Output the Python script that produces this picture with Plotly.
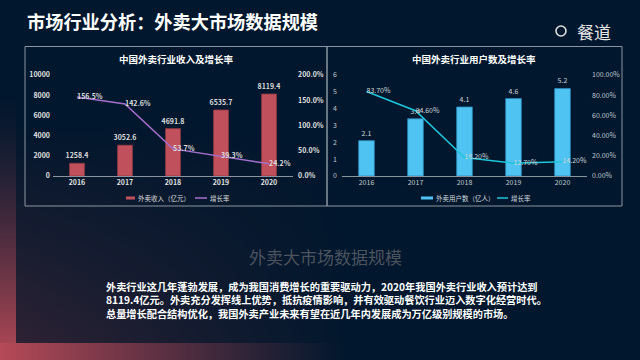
import zlib, struct, base64
import numpy as np
import plotly.graph_objects as go

# ---------------- data ----------------
years = ["2016", "2017", "2018", "2019", "2020"]
revenue = [1258.4, 3052.6, 4691.8, 6535.7, 8119.4]
revenue_growth = [156.5, 142.6, 53.7, 39.3, 24.2]
users = [2.1, 3.4, 4.1, 4.6, 5.2]
user_growth = [83.70, 64.60, 18.20, 12.70, 14.20]

main_title = "市场行业分析：外卖大市场数据规模"
left_title = "中国外卖行业收入及增长率"
right_title = "中国外卖行业用户数及增长率"
rev_name = "外卖收入（亿元）"
user_name = "外卖用户数（亿人）"
growth_name = "增长率"
sub_title = "外卖大市场数据规模"
para_lines = [
    "外卖行业这几年蓬勃发展，成为我国消费增长的重要驱动力，2020年我国外卖行业收入预计达到",
    "8119.4亿元。外卖充分发挥线上优势，抵抗疫情影响，并有效驱动餐饮行业迈入数字化经营时代。",
    "总量增长配合结构优化，我国外卖产业未来有望在近几年内发展成为万亿级别规模的市场。",
]

W, H = 640, 360
FONT = "Noto Sans CJK SC"
RED = "#c0505c"
PURPLE = "#a46fcc"
BLUE = "#4fc3f2"
CYAN = "#1fc6d9"

# ---------------- background image (decoration) ----------------
def make_bg():
    X, Y = np.meshgrid(np.arange(W) + 0.5, np.arange(H) + 0.5)
    navy = np.array([1, 23, 45], float)
    purple = np.array([46, 34, 52], float)
    red = np.array([182, 74, 88], float)
    img = np.ones((H, W, 3)) * navy
    f = np.clip(1 - (X - 16) / 340, 0, 1) * np.clip((Y - 120) / 224, 0, 1)
    img = img + f[..., None] * (purple - navy)
    g = np.clip((Y - 90) / 270, 0, 1) ** 1.4
    strip = navy + g[..., None] * (red - navy)
    img = np.where((X < 16)[..., None], strip, img)
    h = np.clip(1 - X / 350, 0, 1) ** 1.1
    bstrip = navy + h[..., None] * (red - navy)
    img = np.where((Y > 343)[..., None], bstrip, img)
    arr = np.clip(img, 0, 255).astype(np.uint8)
    raw = b"".join(b"\x00" + arr[i].tobytes() for i in range(H))

    def chunk(t, d):
        c = struct.pack(">I", len(d)) + t + d
        return c + struct.pack(">I", zlib.crc32(t + d) & 0xFFFFFFFF)

    png = (b"\x89PNG\r\n\x1a\n"
           + chunk(b"IHDR", struct.pack(">IIBBBBB", W, H, 8, 2, 0, 0, 0))
           + chunk(b"IDAT", zlib.compress(raw, 9))
           + chunk(b"IEND", b""))
    return "data:image/png;base64," + base64.b64encode(png).decode()


def px(x):
    return x / W


def py(y):
    return 1 - y / H


fig = go.Figure()

# ---------------- left chart ----------------
fig.add_trace(go.Bar(
    x=years, y=revenue, width=0.31, marker=dict(color=RED, line=dict(color="#8e3a44", width=0.8)),
    text=[f"{v:.1f}" for v in revenue], textposition="outside", cliponaxis=False,
    constraintext="none",
    textfont=dict(family=FONT, size=7, color="#dcdcdc", weight="bold"),
    xaxis="x", yaxis="y", showlegend=False, name=rev_name,
))
fig.add_trace(go.Scatter(
    x=years, y=revenue_growth, mode="lines+text", line=dict(color=PURPLE, width=1.5),
    text=[f"{v:.1f}%" for v in revenue_growth], textposition="middle right",
    textfont=dict(family=FONT, size=7, color="#dcdcdc", weight="bold"),
    xaxis="x", yaxis="y2", showlegend=False, name=growth_name, cliponaxis=False,
))

# ---------------- right chart ----------------
fig.add_trace(go.Bar(
    x=years, y=users, width=0.32, marker=dict(color=BLUE, line=dict(color="#2b86b8", width=0.8)),
    text=[f"{v:.1f}" for v in users], textposition="outside", cliponaxis=False,
    constraintext="none",
    textfont=dict(family=FONT, size=7, color="#cfd6dc"),
    xaxis="x2", yaxis="y3", showlegend=False, name=user_name,
))
fig.add_trace(go.Scatter(
    x=years, y=user_growth, mode="lines+text", line=dict(color=CYAN, width=1.5),
    text=[f"{v:.2f}%" for v in user_growth], textposition="middle right",
    textfont=dict(family=FONT, size=7, color="#cfd6dc"),
    xaxis="x2", yaxis="y4", showlegend=False, name=growth_name, cliponaxis=False,
))

tick_bold = dict(family=FONT, size=7, color="#e0e0e0", weight="bold")
tick_norm = dict(family=FONT, size=7, color="#c0c8d0")

LX = [px(53), px(293)]
RX = [px(342), px(587)]
YD = [py(176), py(75)]

fig.update_layout(
    width=W, height=H,
    margin=dict(l=0, r=0, t=0, b=0, pad=0, autoexpand=False),
    paper_bgcolor="#01172d", plot_bgcolor="rgba(0,0,0,0)",
    font=dict(family=FONT, color="#ffffff"),
    showlegend=False,
    images=[dict(source=make_bg(), xref="paper", yref="paper", x=0, y=1, sizex=1, sizey=1,
                 sizing="stretch", layer="below", xanchor="left", yanchor="top")],
    xaxis=dict(domain=LX, anchor="y", type="category", showgrid=False, zeroline=False,
               showline=True, linecolor="#8a949e", linewidth=1, ticks="", tickfont=tick_bold,
               automargin=False),
    yaxis=dict(domain=YD, anchor="x", range=[0, 10000], dtick=2000, tickformat="d",
               showgrid=False, zeroline=False, showline=False, tickfont=tick_bold,
               ticklabelstandoff=2, automargin=False),
    yaxis2=dict(domain=YD, anchor="x", overlaying="y", side="right", range=[0, 200], dtick=50,
                tickformat=".1f", ticksuffix="%", showgrid=False, zeroline=False,
                tickfont=tick_bold, ticklabelstandoff=4, automargin=False),
    xaxis2=dict(domain=RX, anchor="y3", type="category", showgrid=False, zeroline=False,
                showline=True, linecolor="#8a949e", linewidth=1, ticks="", tickfont=tick_norm,
                automargin=False),
    yaxis3=dict(domain=YD, anchor="x2", range=[0, 6], dtick=1, showgrid=False,
                zeroline=False, tickfont=tick_norm, ticklabelstandoff=4, automargin=False),
    yaxis4=dict(domain=YD, anchor="x2", overlaying="y3", side="right", range=[0, 100], dtick=20,
                tickformat=".2f", ticksuffix="%", showgrid=False, zeroline=False,
                tickfont=tick_norm, ticklabelstandoff=4, automargin=False),
)

# ---------------- decorations / text ----------------
border = "#8c96a0"
fig.add_shape(type="rect", xref="paper", yref="paper", x0=px(25), x1=px(327), y0=py(206), y1=py(46.5),
              line=dict(color=border, width=1))
fig.add_shape(type="rect", xref="paper", yref="paper", x0=px(327), x1=px(622), y0=py(206), y1=py(46.5),
              line=dict(color=border, width=1))
# logo mark
fig.add_shape(type="circle", xref="paper", yref="paper", x0=px(556), x1=px(566), y0=py(36), y1=py(26),
              line=dict(color="#e0e0e0", width=1.6))

# manual legends (line swatches + labels)
legend_items = [
    (126, 135, RED, 3, rev_name, "#dcdcdc"),
    (195, 207, PURPLE, 1.5, growth_name, "#dcdcdc"),
    (421, 433, BLUE, 3, user_name, "#cfd6dc"),
    (497, 508, CYAN, 1.5, growth_name, "#cfd6dc"),
]
for x0, x1, col, wd, label, tcol in legend_items:
    fig.add_shape(type="line", xref="paper", yref="paper", x0=px(x0), x1=px(x1),
                  y0=py(198), y1=py(198), line=dict(color=col, width=wd))
    fig.add_annotation(xref="paper", yref="paper", showarrow=False, text=label,
                       x=px(x1 + 1), y=py(198), xanchor="left", yanchor="middle",
                       font=dict(family=FONT, size=6.5, color=tcol))

ann = [
    dict(text=f"<b>{main_title}</b>", x=px(25), y=py(21), xanchor="left", yanchor="middle",
         font=dict(family=FONT, size=18.2, color="#ffffff")),
    dict(text="餐道", x=px(575), y=py(31), xanchor="left", yanchor="middle",
         font=dict(family=FONT, size=17, color="#e6e6e6")),
    dict(text=f"<b>{left_title}</b>", x=px(176), y=py(59), xanchor="center", yanchor="middle",
         font=dict(family=FONT, size=9.5, color="#ffffff")),
    dict(text=f"<b>{right_title}</b>", x=px(474), y=py(59), xanchor="center", yanchor="middle",
         font=dict(family=FONT, size=9.5, color="#ffffff")),
    dict(text=sub_title, x=px(325), y=py(256), xanchor="center", yanchor="middle",
         font=dict(family=FONT, size=17, color="#4c535e")),
    dict(text="<br>".join(f"<b>{line}</b>" for line in para_lines), x=px(104), y=py(299.5),
         xanchor="left", yanchor="middle", align="left",
         font=dict(family=FONT, size=10.2, color="#ffffff")),
]
for a in ann:
    fig.add_annotation(xref="paper", yref="paper", showarrow=False, **a)

fig.write_html(
    "out.html",
    config={"displayModeBar": False},
    post_script="document.body.style.margin='0px';document.body.style.overflow='hidden';",
)
